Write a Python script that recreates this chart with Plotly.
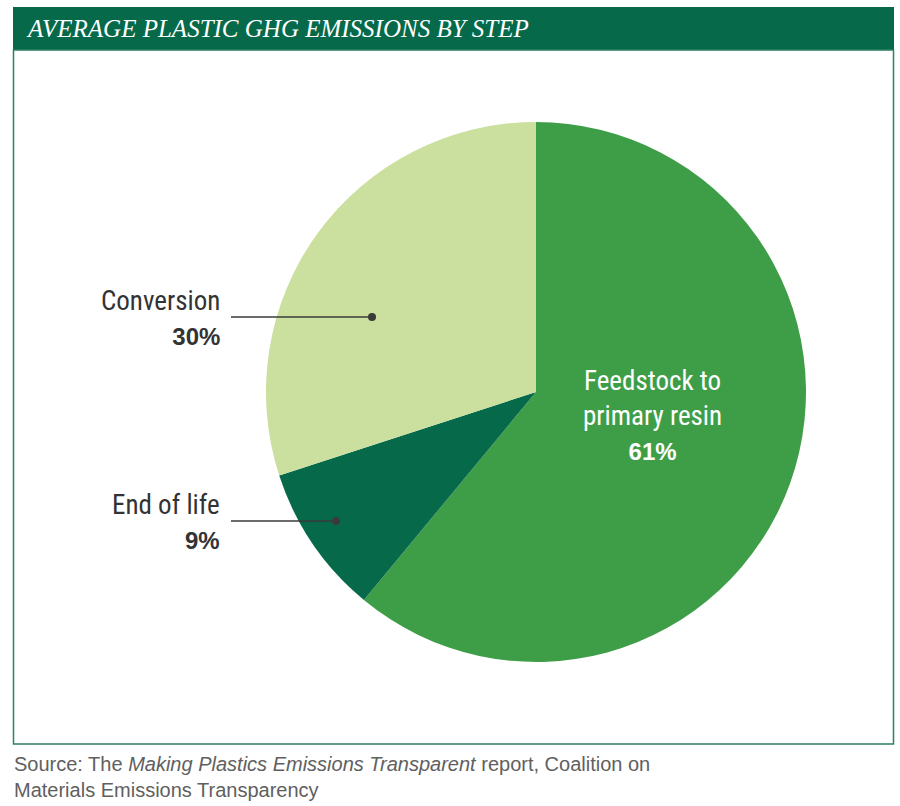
import plotly.graph_objects as go

# ---- data ----
labels = ["Feedstock to primary resin", "End of life", "Conversion"]
label_lines = ["Feedstock to<br>primary resin", "End of life", "Conversion"]
values = [61, 9, 30]
colors = ["#3E9E48", "#05694A", "#CBE09F"]
title_text = "AVERAGE PLASTIC GHG EMISSIONS BY STEP"
source_text = ("Source: The <i>Making Plastics Emissions Transparent</i> report, Coalition on<br>"
               "Materials Emissions Transparency")

W, H = 900, 806
def px(x):
    return x / W
def py(y):
    return 1 - y / H

LABEL_FONT = "Liberation Sans Narrow, Roboto Condensed, Arial Narrow, Roboto, sans-serif"
PCT_STYLE = "font-family:'Liberation Sans', Arial, sans-serif;font-size:24px"

fig = go.Figure()
fig.add_trace(go.Pie(
    labels=labels, values=values,
    marker=dict(colors=colors, line=dict(width=0)),
    sort=False, direction="clockwise", rotation=0,
    textinfo="none", hoverinfo="label+percent",
    domain=dict(x=[px(266), px(806)], y=[py(662), py(122)]),
    showlegend=False,
))

shapes = []
# title bar
shapes.append(dict(type="rect", xref="paper", yref="paper",
                   x0=px(13), x1=px(894), y0=py(50), y1=py(7),
                   fillcolor="#05694A", line=dict(width=0), layer="below"))
# frame
shapes.append(dict(type="rect", xref="paper", yref="paper",
                   x0=px(13.5), x1=px(893.5), y0=py(744), y1=py(50),
                   fillcolor="rgba(0,0,0,0)", line=dict(color="#2E8060", width=1.5), layer="below"))

annotations = []
annotations.append(dict(xref="paper", yref="paper", x=px(24), y=py(29),
                        xanchor="left", yanchor="middle", showarrow=False,
                        text="<i>" + title_text + "</i>",
                        font=dict(family="Liberation Serif, DejaVu Serif, serif", size=25, color="white")))
annotations.append(dict(xref="paper", yref="paper", x=px(12), y=py(777),
                        xanchor="left", yanchor="middle", showarrow=False, align="left",
                        text=source_text,
                        font=dict(family="Liberation Sans, Arial, sans-serif", size=20, color="#606060")))

# inside label for the big slice
annotations.append(dict(xref="paper", yref="paper", x=px(652), y=py(415),
                        xanchor="center", yanchor="middle", showarrow=False, align="center",
                        text=f"{label_lines[0]}<br><span style=\"{PCT_STYLE}\"><b>{values[0]}%</b></span>",
                        font=dict(family=LABEL_FONT, size=27, color="white")))

# outside labels with leader lines
leaders = {1: dict(ty=521, dot=(336, 521)), 2: dict(ty=317, dot=(372, 317))}
for i, spec in leaders.items():
    ty = spec["ty"]
    dx, dy = spec["dot"]
    annotations.append(dict(xref="paper", yref="paper", x=px(222), y=py(ty),
                            xanchor="right", yanchor="middle", showarrow=False, align="right",
                            text=f"{label_lines[i]}<br><span style=\"{PCT_STYLE}\"><b>{values[i]}%</b></span>",
                            font=dict(family=LABEL_FONT, size=27, color="#333333")))
    shapes.append(dict(type="line", xref="paper", yref="paper",
                       x0=px(231), x1=px(dx), y0=py(ty), y1=py(ty),
                       line=dict(color="#3a3a3a", width=1.5)))
    shapes.append(dict(type="circle", xref="paper", yref="paper",
                       x0=px(dx - 4), x1=px(dx + 4), y0=py(dy + 4), y1=py(dy - 4),
                       fillcolor="#3a3a3a", line=dict(width=0)))

fig.update_layout(
    width=W, height=H,
    margin=dict(l=0, r=0, t=0, b=0),
    paper_bgcolor="white", plot_bgcolor="white",
    shapes=shapes, annotations=annotations,
)

fig.write_html("out.html")
